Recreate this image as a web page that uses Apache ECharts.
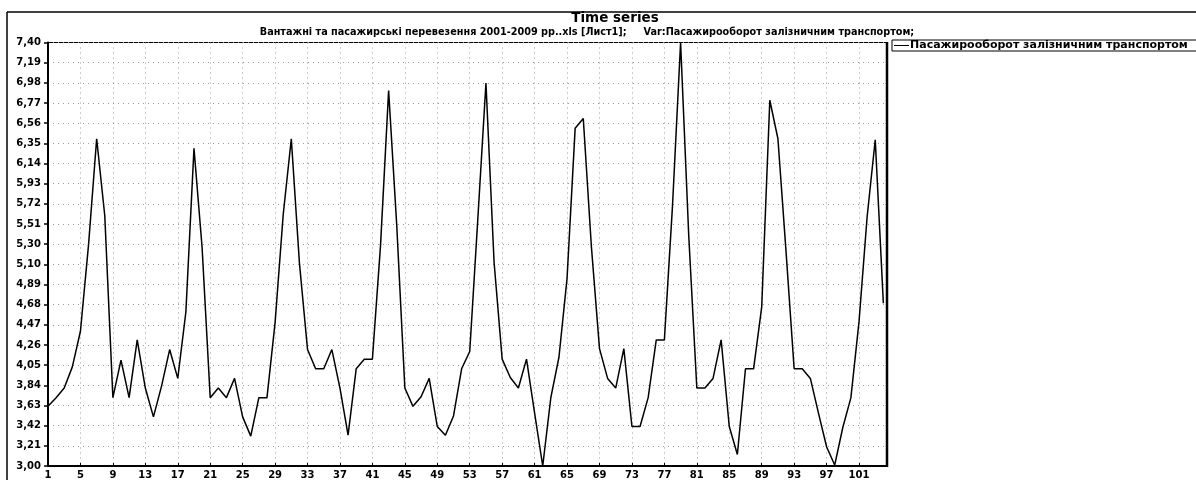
<!DOCTYPE html>
<html>
<head>
<meta charset="utf-8">
<script src="https://cdn.jsdelivr.net/npm/echarts@6/dist/echarts.min.js"></script>
<style>
  html, body { margin: 0; padding: 0; background: #fff; }
  #main { width: 1196px; height: 480px; }
</style>
</head>
<body>
<div id="main"></div>
<script>
// Пасажирооборот залізничним транспортом, по місяцях (спостереження 1..104)
const seriesName = "Пасажирооборот залізничним транспортом";
const passengerValues = [
  3.62, 3.71, 3.81, 4.03, 4.40, 5.30, 6.40, 5.60, 3.71, 4.10,
  3.71, 4.31, 3.81, 3.51, 3.83, 4.21, 3.91, 4.60, 6.30, 5.27,
  3.71, 3.81, 3.71, 3.91, 3.51, 3.31, 3.71, 3.71, 4.49, 5.61,
  6.40, 5.11, 4.21, 4.01, 4.01, 4.21, 3.81, 3.32, 4.01, 4.11,
  4.11, 5.29, 6.90, 5.50, 3.81, 3.62, 3.72, 3.91, 3.41, 3.32,
  3.52, 4.01, 4.19, 5.57, 6.98, 5.12, 4.11, 3.92, 3.81, 4.11,
  3.55, 3.00, 3.71, 4.13, 4.95, 6.51, 6.61, 5.28, 4.22, 3.91,
  3.81, 4.22, 3.41, 3.41, 3.71, 4.31, 4.31, 5.70, 7.40, 5.40,
  3.81, 3.81, 3.91, 4.31, 3.41, 3.12, 4.01, 4.01, 4.65, 6.80,
  6.40, 5.23, 4.01, 4.01, 3.91, 3.55, 3.20, 3.01, 3.40, 3.71,
  4.50, 5.59, 6.39, 4.69
];
const observations = passengerValues.map((v, i) => i + 1);

const xTicks = [1, 5, 9, 13, 17, 21, 25, 29, 33, 37, 41, 45, 49, 53, 57, 61, 65, 69, 73, 77, 81, 85, 89, 93, 97, 101];
const yTickLabels = [
  "3,00", "3,21", "3,42", "3,63", "3,84", "4,05", "4,26", "4,47", "4,68", "4,89", "5,10",
  "5,30", "5,51", "5,72", "5,93", "6,14", "6,35", "6,56", "6,77", "6,98", "7,19", "7,40"
];
const yMin = 3.0;
const yMax = 7.4;
const yStep = (yMax - yMin) / (yTickLabels.length - 1);
const yTicks = yTickLabels.map((s, k) => yMin + k * yStep);

const titleText = "Time series";
const subtitleText = "Вантажні та пасажирські перевезення 2001-2009 рр..xls [Лист1];     Var:Пасажирооборот залізничним транспортом;";

const FONT = "DejaVu Sans";
const chart = echarts.init(document.getElementById("main"), null, { renderer: "canvas" });

const dotted = { color: "#9a9a9a", width: 1, type: [1, 4] };

const option = {
  animation: false,
  backgroundColor: "#fff",
  grid: {
    left: 48, right: 309, top: 42.5, bottom: 13.3,
    show: true, borderColor: "#000", borderWidth: 1, containLabel: false
  },
  legend: {
    show: true,
    data: [seriesName],
    left: 892, top: 40,
    orient: "horizontal",
    itemWidth: 15, itemHeight: 1, itemGap: 2,
    padding: [0, 40, 0, 2],
    borderColor: "#000", borderWidth: 1,
    icon: "rect",
    textStyle: { fontFamily: FONT, fontWeight: "bold", fontSize: 11, color: "#000", padding: [0, 0, 0, -4] }
  },
  graphic: [
    { type: "line", shape: { x1: 7, y1: 12, x2: 1196, y2: 12 }, style: { stroke: "#000", lineWidth: 1.5 }, silent: true },
    { type: "line", shape: { x1: 7, y1: 12, x2: 7, y2: 480 }, style: { stroke: "#000", lineWidth: 1.5 }, silent: true },
    { type: "line", shape: { x1: 887, y1: 42, x2: 887, y2: 467 }, style: { stroke: "#000", lineWidth: 2.5 }, silent: true },
    {
      type: "text", x: 615, y: 18, silent: true,
      style: { text: titleText, font: "bold 13.5px '" + FONT + "'", fill: "#000", textAlign: "center", textVerticalAlign: "middle" }
    },
    {
      type: "text", x: 587, y: 32, silent: true,
      style: { text: subtitleText, font: "bold 9.7px '" + FONT + "'", fill: "#000", textAlign: "center", textVerticalAlign: "middle" }
    }
  ],
  xAxis: {
    type: "value",
    min: 1,
    max: 104.45,
    axisLine: { show: true, lineStyle: { color: "#000", width: 2 } },
    axisTick: { show: true, inside: true, length: 3, customValues: xTicks, lineStyle: { color: "#000", width: 1 } },
    axisLabel: {
      show: true, customValues: xTicks, margin: 4,
      fontFamily: FONT, fontWeight: "bold", fontSize: 10, color: "#000"
    },
    splitLine: { show: true, lineStyle: dotted }
  },
  yAxis: {
    type: "value",
    min: yMin,
    max: yMax,
    axisLine: { show: true, lineStyle: { color: "#000", width: 2 } },
    axisTick: { show: true, inside: false, length: 4, customValues: yTicks, lineStyle: { color: "#000", width: 1.5 } },
    axisLabel: {
      show: true, customValues: yTicks, margin: 7,
      fontFamily: FONT, fontWeight: "bold", fontSize: 10, color: "#000",
      formatter: (val) => yTickLabels[Math.round((val - yMin) / yStep)]
    },
    splitLine: { show: true, lineStyle: dotted }
  },
  series: [
    {
      name: seriesName,
      type: "line",
      data: observations.map((x, i) => [x, passengerValues[i]]),
      showSymbol: false,
      symbol: "none",
      lineStyle: { color: "#000", width: 1.5 },
      itemStyle: { color: "#000" }
    }
  ]
};

chart.setOption(option);
</script>
</body>
</html>
